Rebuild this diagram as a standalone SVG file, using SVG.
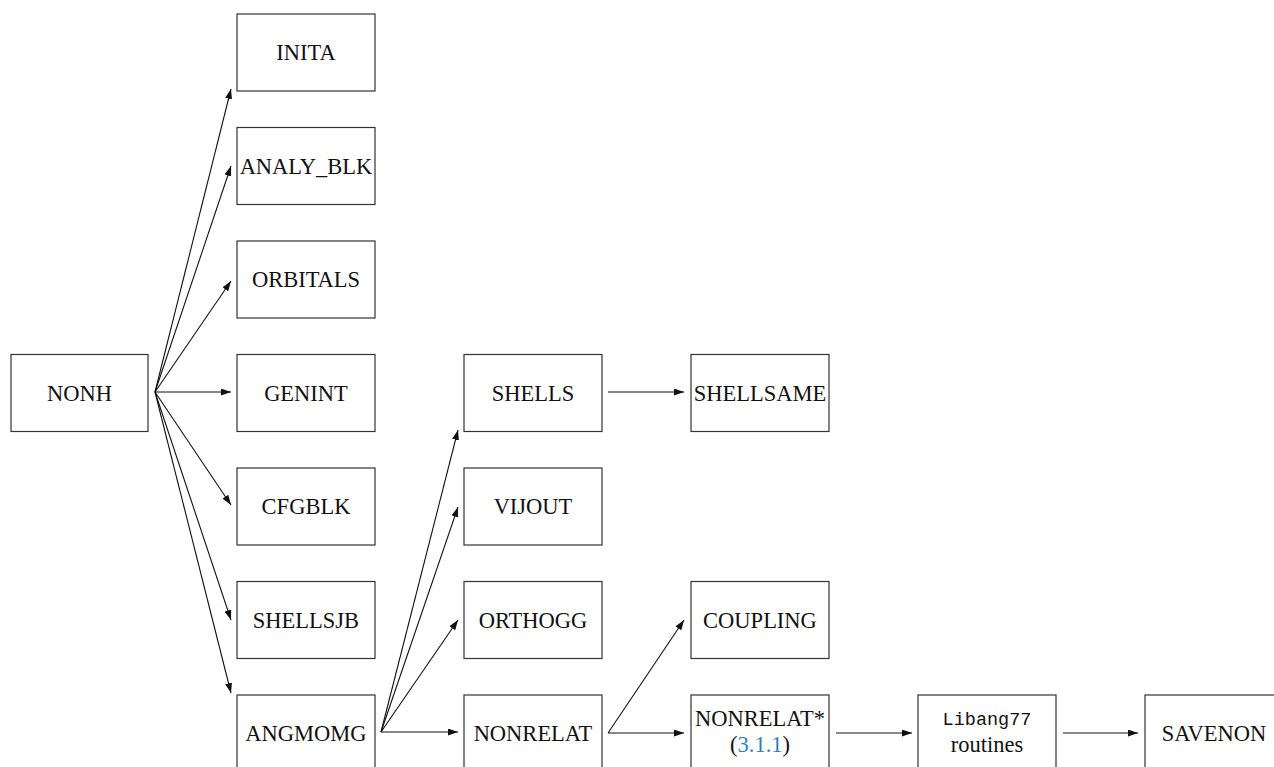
<svg xmlns="http://www.w3.org/2000/svg" width="1274" height="767" viewBox="0 0 1274 767">
<style>
.box{fill:#fff;stroke:#333;stroke-width:1.2}
.lbl{font-family:'Liberation Serif',serif;font-size:22.5px;fill:#111;text-anchor:middle}
.mono{font-family:'Liberation Mono',monospace;font-size:18.5px;fill:#111;text-anchor:middle}
.ref{fill:#2f7fc1}
.edge{fill:none;stroke:#111;stroke-width:1.1;marker-end:url(#ah)}
</style>
<defs>
<marker id="ah" markerUnits="userSpaceOnUse" markerWidth="10" markerHeight="7" refX="10" refY="3.5" orient="auto">
<path d="M0,0 L10,3.5 L0,7 z" fill="#111"/>
</marker>
</defs>
<rect width="1274" height="767" fill="#fff"/>
<g id="connectors">
<line class="edge" x1="155" y1="392" x2="231" y2="89"/>
<line class="edge" x1="155" y1="392" x2="231" y2="166"/>
<line class="edge" x1="155" y1="392" x2="231" y2="281"/>
<line class="edge" x1="155" y1="392" x2="231" y2="392"/>
<line class="edge" x1="155" y1="392" x2="231" y2="505"/>
<line class="edge" x1="155" y1="392" x2="231" y2="620"/>
<line class="edge" x1="155" y1="392" x2="231" y2="693"/>
<line class="edge" x1="381" y1="732" x2="458" y2="430"/>
<line class="edge" x1="381" y1="732" x2="458" y2="507"/>
<line class="edge" x1="381" y1="732" x2="458" y2="620"/>
<line class="edge" x1="381" y1="732" x2="458" y2="732"/>
<line class="edge" x1="608" y1="392" x2="684" y2="392"/>
<line class="edge" x1="608" y1="733" x2="684" y2="620"/>
<line class="edge" x1="608" y1="733" x2="684" y2="733"/>
<line class="edge" x1="836" y1="733" x2="912" y2="733"/>
<line class="edge" x1="1063" y1="733" x2="1138" y2="733"/>
</g>
<g id="NONH"><rect class="box" x="11" y="354.5" width="137" height="77"/><text class="lbl" x="79.5" y="400.5">NONH</text></g>
<g id="INITA"><rect class="box" x="237" y="14" width="138" height="77"/><text class="lbl" x="306" y="60">INITA</text></g>
<g id="ANALY_BLK"><rect class="box" x="237" y="127.5" width="138" height="77"/><text class="lbl" x="306" y="173.5">ANALY_BLK</text></g>
<g id="ORBITALS"><rect class="box" x="237" y="241" width="138" height="77"/><text class="lbl" x="306" y="287">ORBITALS</text></g>
<g id="GENINT"><rect class="box" x="237" y="354.5" width="138" height="77"/><text class="lbl" x="306" y="400.5">GENINT</text></g>
<g id="CFGBLK"><rect class="box" x="237" y="468" width="138" height="77"/><text class="lbl" x="306" y="514">CFGBLK</text></g>
<g id="SHELLSJB"><rect class="box" x="237" y="581.5" width="138" height="77"/><text class="lbl" x="306" y="627.5">SHELLSJB</text></g>
<g id="ANGMOMG"><rect class="box" x="237" y="695" width="138" height="77"/><text class="lbl" x="306" y="741">ANGMOMG</text></g>
<g id="SHELLS"><rect class="box" x="464" y="354.5" width="138" height="77"/><text class="lbl" x="533" y="400.5">SHELLS</text></g>
<g id="VIJOUT"><rect class="box" x="464" y="468" width="138" height="77"/><text class="lbl" x="533" y="514">VIJOUT</text></g>
<g id="ORTHOGG"><rect class="box" x="464" y="581.5" width="138" height="77"/><text class="lbl" x="533" y="627.5">ORTHOGG</text></g>
<g id="NONRELAT"><rect class="box" x="464" y="695" width="138" height="77"/><text class="lbl" x="533" y="741">NONRELAT</text></g>
<g id="SHELLSAME"><rect class="box" x="691" y="354.5" width="138" height="77"/><text class="lbl" x="760" y="400.5">SHELLSAME</text></g>
<g id="COUPLING"><rect class="box" x="691" y="581.5" width="138" height="77"/><text class="lbl" x="760" y="627.5">COUPLING</text></g>
<g id="NONRELAT_STAR"><rect class="box" x="691" y="695" width="138" height="77"/><text class="lbl" x="760" y="726">NONRELAT*</text><text class="lbl" x="760" y="752">(<tspan class="ref">3.1.1</tspan>)</text></g>
<g id="LIBANG77"><rect class="box" x="918" y="695" width="138" height="77"/><text class="mono" x="987" y="725">Libang77</text><text class="lbl" x="987" y="752">routines</text></g>
<g id="SAVENON"><rect class="box" x="1145" y="695" width="138" height="77"/><text class="lbl" x="1214" y="741">SAVENON</text></g>
</svg>
